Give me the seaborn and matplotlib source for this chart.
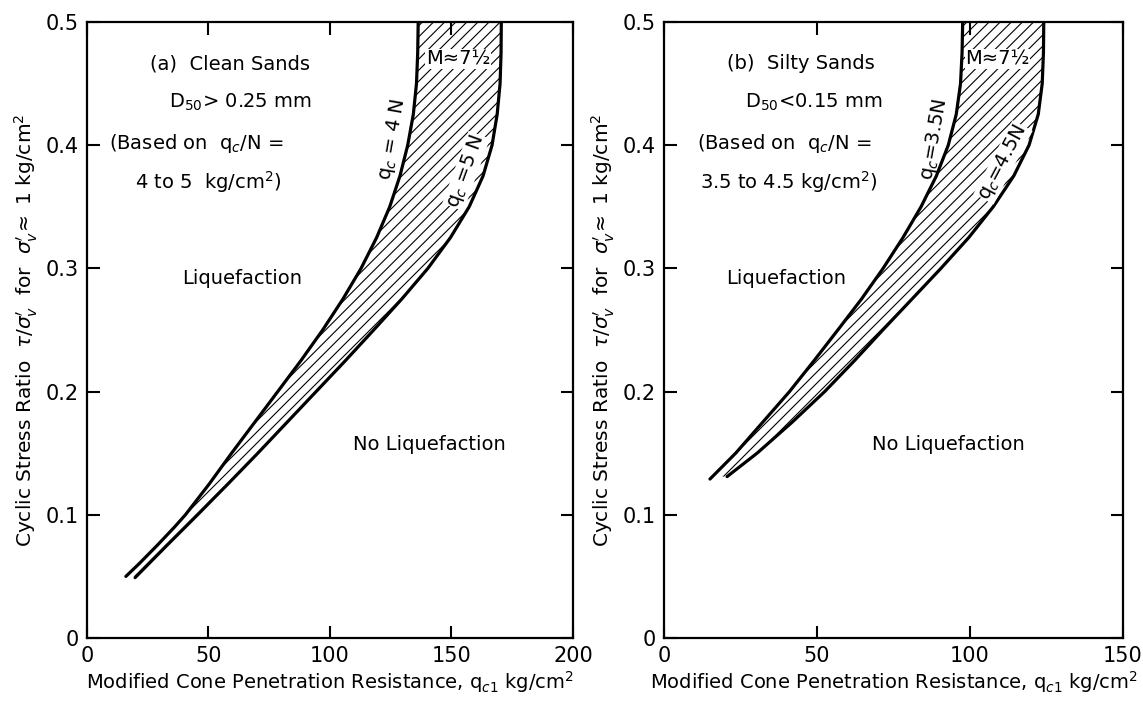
import numpy as np
import pandas as pd
import matplotlib
matplotlib.use("Agg")
import matplotlib.pyplot as plt
import seaborn as sns

sns.set_style("ticks", {'axes.edgecolor': 'black', 'text.color': 'black',
                        'axes.labelcolor': 'black', 'xtick.color': 'black',
                        'ytick.color': 'black'})
plt.rcParams['font.family'] = ['DejaVu Sans']
plt.rcParams['hatch.linewidth'] = 0.8
plt.rcParams['mathtext.fontset'] = 'dejavusans'

# panel (a) clean sands: cyclic stress ratio vs q_c1
a_csr_4n = [0.05, 0.06, 0.075, 0.09, 0.1, 0.125, 0.15, 0.175, 0.2, 0.225, 0.25, 0.275, 0.3,
            0.325, 0.35, 0.375, 0.4, 0.425, 0.45, 0.475, 0.5]
a_qc_4n = [16, 21.3, 28.8, 36, 40.5, 50.3, 59.5, 69, 78.5, 88, 97, 105.3, 112.8,
           119.2, 124.6, 128.8, 132, 134.3, 135.6, 136.1, 136.3]
a_csr_5n = [0.049, 0.06, 0.075, 0.1, 0.125, 0.15, 0.175, 0.2, 0.225, 0.25, 0.275, 0.3,
            0.325, 0.35, 0.375, 0.4, 0.425, 0.45, 0.475, 0.5]
a_qc_5n = [19.8, 25.3, 32.8, 45.5, 58, 70.3, 82.3, 94.3, 106.3, 118, 129.5, 140.3,
           149.6, 157.3, 163, 166.7, 168.8, 170, 170.4, 170.5]

# panel (b) silty sands
b_csr_35n = [0.129, 0.15, 0.175, 0.2, 0.225, 0.25, 0.275, 0.3, 0.325, 0.35,
             0.375, 0.4, 0.425, 0.45, 0.475, 0.5]
b_qc_35n = [15, 23.4, 32.2, 41, 49, 56.8, 64.5, 71.6, 78.1, 84,
            89, 92.9, 95.5, 96.9, 97.4, 97.6]
b_csr_45n = [0.131, 0.15, 0.175, 0.2, 0.225, 0.25, 0.275, 0.3, 0.325, 0.35,
             0.375, 0.4, 0.425, 0.45, 0.475, 0.5]
b_qc_45n = [20.6, 30.4, 41.8, 52.5, 62.2, 71.5, 81, 90.5, 99.6, 107.6,
            114.3, 119.3, 122.3, 123.6, 124, 124.1]

fig = plt.figure(figsize=(11.43, 7.05), dpi=100)
ax1 = fig.add_axes([0.0761, 0.095, 0.4252, 0.874])
ax2 = fig.add_axes([0.581, 0.095, 0.4015, 0.874])

ylab = r"Cyclic Stress Ratio  $\tau/\sigma_v'$  for  $\sigma_v'\!\approx$ 1 kg/cm$^2$"
xlab = r"Modified Cone Penetration Resistance, q$_{c1}$ kg/cm$^2$"


def draw(ax, lo_x, lo_y, hi_x, hi_y, xmax, xticks):
    df = pd.concat([
        pd.DataFrame({'qc': lo_x, 'csr': lo_y, 'curve': 'low'}),
        pd.DataFrame({'qc': hi_x, 'csr': hi_y, 'curve': 'high'}),
    ])
    sns.lineplot(data=df, x='qc', y='csr', units='curve', estimator=None,
                 sort=False, color='black', lw=2.3, ax=ax)
    # hatched band between the two curves
    yy = np.linspace(max(lo_y[0], hi_y[0]), 0.5, 200)
    xl = np.interp(yy, lo_y, lo_x)
    xh = np.interp(yy, hi_y, hi_x)
    ax.fill_betweenx(yy, xl, xh, facecolor='none', edgecolor='black',
                     hatch='///', linewidth=0)
    ax.set_xlim(0, xmax)
    ax.set_ylim(0, 0.5)
    ax.set_xticks(xticks)
    ax.set_xticklabels([str(t) for t in xticks])
    ax.set_yticks([0, 0.1, 0.2, 0.3, 0.4, 0.5])
    ax.set_yticklabels(['0', '0.1', '0.2', '0.3', '0.4', '0.5'])
    ax.tick_params(direction='in', length=9, width=1.5, top=True, right=True,
                   labelsize=15, pad=6)
    for s in ax.spines.values():
        s.set_linewidth(1.6)
    ax.set_xlabel(xlab, fontsize=14, labelpad=2)
    ax.set_ylabel(ylab, fontsize=14.5, labelpad=4)


draw(ax1, a_qc_4n, a_csr_4n, a_qc_5n, a_csr_5n, 200, [0, 50, 100, 150, 200])
draw(ax2, b_qc_35n, b_csr_35n, b_qc_45n, b_csr_45n, 150, [0, 50, 100, 150])

fs = 14
white = dict(facecolor='white', edgecolor='none', pad=0.3)
ax1.text(59, 0.466, "(a)  Clean Sands", fontsize=fs, ha='center', va='center')
ax1.text(63, 0.435, r"D$_{50}$> 0.25 mm", fontsize=fs, ha='center', va='center')
ax1.text(45, 0.401, r"(Based on  q$_c$/N =", fontsize=fs, ha='center', va='center')
ax1.text(50, 0.370, r"4 to 5  kg/cm$^2$)", fontsize=fs, ha='center', va='center')
ax1.text(64, 0.292, "Liquefaction", fontsize=fs, ha='center', va='center')
ax1.text(141, 0.157, "No Liquefaction", fontsize=fs, ha='center', va='center')
ax1.text(152.7, 0.470, "M≈7½", fontsize=14, ha='center', va='center', bbox=white)
ax1.text(125.5, 0.405, r"q$_c$ = 4 N", fontsize=14, ha='center', va='center', rotation=80)
ax1.text(156, 0.379, r"q$_c$ =5 N", fontsize=14, ha='center', va='center', rotation=70,
         bbox=white)

ax2.text(44.6, 0.466, "(b)  Silty Sands", fontsize=fs, ha='center', va='center')
ax2.text(49, 0.435, r"D$_{50}$<0.15 mm", fontsize=fs, ha='center', va='center')
ax2.text(39.3, 0.401, r"(Based on  q$_c$/N =", fontsize=fs, ha='center', va='center')
ax2.text(40.7, 0.370, r"3.5 to 4.5 kg/cm$^2$)", fontsize=fs, ha='center', va='center')
ax2.text(40, 0.292, "Liquefaction", fontsize=fs, ha='center', va='center')
ax2.text(93, 0.157, "No Liquefaction", fontsize=fs, ha='center', va='center')
ax2.text(109, 0.470, "M≈7½", fontsize=14, ha='center', va='center', bbox=white)
ax2.text(88.4, 0.405, r"q$_c$=3.5N", fontsize=14, ha='center', va='center', rotation=80)
ax2.text(110.8, 0.386, r"q$_c$=4.5N", fontsize=14, ha='center', va='center', rotation=62,
         bbox=white)

fig.savefig('out.png', dpi=100)
